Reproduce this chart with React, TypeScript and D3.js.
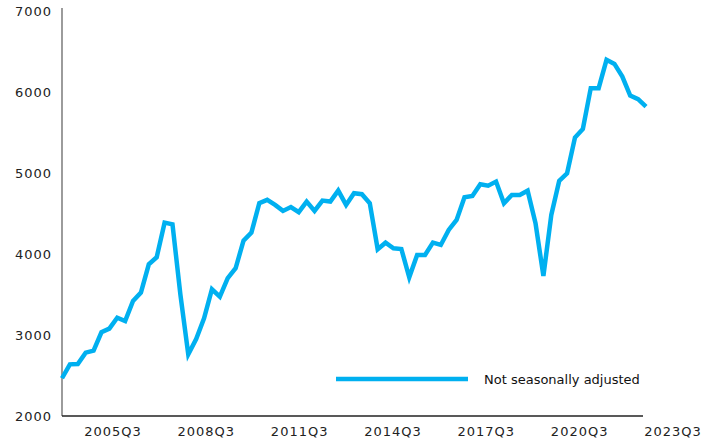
import { useEffect, useRef } from 'react'
import * as d3 from 'd3'

// quarterly, 2004Q1 .. 2022Q3
const quarters: string[] = []
for (let y = 2004; y <= 2022; y++) {
  for (let q = 1; q <= 4; q++) {
    if (y === 2022 && q > 3) break
    quarters.push(`${y}Q${q}`)
  }
}

const notSeasonallyAdjusted = [
  2466, 2638, 2642, 2782, 2807, 3034, 3079, 3214, 3173, 3420,
  3523, 3873, 3960, 4387, 4367, 3500, 2762, 2951, 3206, 3565,
  3474, 3701, 3824, 4165, 4264, 4627, 4668, 4606, 4532, 4580,
  4516, 4647, 4532, 4659, 4647, 4783, 4606, 4750, 4738, 4627,
  4059, 4140, 4071, 4062, 3713, 3988, 3988, 4140, 4112, 4297,
  4421, 4701, 4717, 4862, 4844, 4894, 4627, 4729, 4729, 4782,
  4380, 3729, 4482, 4902, 4997, 5437, 5544, 6047, 6047, 6397,
  6347, 6190, 5956, 5911, 5820,
]

const yTicks = [2000, 3000, 4000, 5000, 6000, 7000]
const xTickLabels = ['2005Q3', '2008Q3', '2011Q3', '2014Q3', '2017Q3', '2020Q3', '2023Q3']
const seriesName = 'Not seasonally adjusted'

export default function App() {
  const ref = useRef<SVGSVGElement>(null)

  useEffect(() => {
    const width = 721
    const height = 443
    const svg = d3.select(ref.current)
    svg.selectAll('*').remove()
    svg.attr('width', width).attr('height', height)

    const font = '"DejaVu Sans", sans-serif'
    const blue = '#00b0f0'

    const x = d3.scalePoint<string>().domain(quarters).range([62, 646])
    const y = d3.scaleLinear().domain([2000, 7000]).range([416, 11])
    const xLabel = d3.scalePoint<string>().domain(xTickLabels).range([113, 673])

    // y axis
    svg.append('line')
      .attr('x1', 62).attr('x2', 62)
      .attr('y1', 8).attr('y2', y(2000))
      .attr('stroke', '#666').attr('stroke-width', 1.3)

    svg.append('g').selectAll('text')
      .data(yTicks)
      .join('text')
      .attr('x', 52)
      .attr('y', d => y(d) + 4.5)
      .attr('text-anchor', 'end')
      .style('font-family', font)
      .style('font-size', '13px')
      .style('letter-spacing', '1px')
      .style('fill', '#222')
      .text(d => d)

    // x axis
    svg.append('line')
      .attr('x1', 62).attr('x2', 643)
      .attr('y1', y(2000)).attr('y2', y(2000))
      .attr('stroke', '#222').attr('stroke-width', 1.3)

    svg.append('g').selectAll('text')
      .data(xTickLabels)
      .join('text')
      .attr('x', d => xLabel(d)!)
      .attr('y', 436)
      .attr('text-anchor', 'middle')
      .style('font-family', font)
      .style('font-size', '13px')
      .style('letter-spacing', '1px')
      .style('fill', '#222')
      .text(d => d)

    // series
    const line = d3.line<number>()
      .x((_, i) => x(quarters[i])!)
      .y(d => y(d))

    svg.append('path')
      .datum(notSeasonallyAdjusted)
      .attr('d', line)
      .attr('fill', 'none')
      .attr('stroke', blue)
      .attr('stroke-width', 4.5)
      .attr('stroke-linejoin', 'miter')

    // legend
    const legend = svg.append('g').attr('transform', 'translate(336, 379)')
    legend.append('line')
      .attr('x1', 0).attr('x2', 132)
      .attr('y1', 0).attr('y2', 0)
      .attr('stroke', blue).attr('stroke-width', 4.5)
    legend.append('text')
      .attr('x', 148).attr('y', 5)
      .style('font-family', font)
      .style('font-size', '13px')
      .style('fill', '#111')
      .text(seriesName)
  }, [])

  return (
    <svg ref={ref} style={{ position: 'absolute', left: 0, top: 0, background: '#fff' }} />
  )
}
